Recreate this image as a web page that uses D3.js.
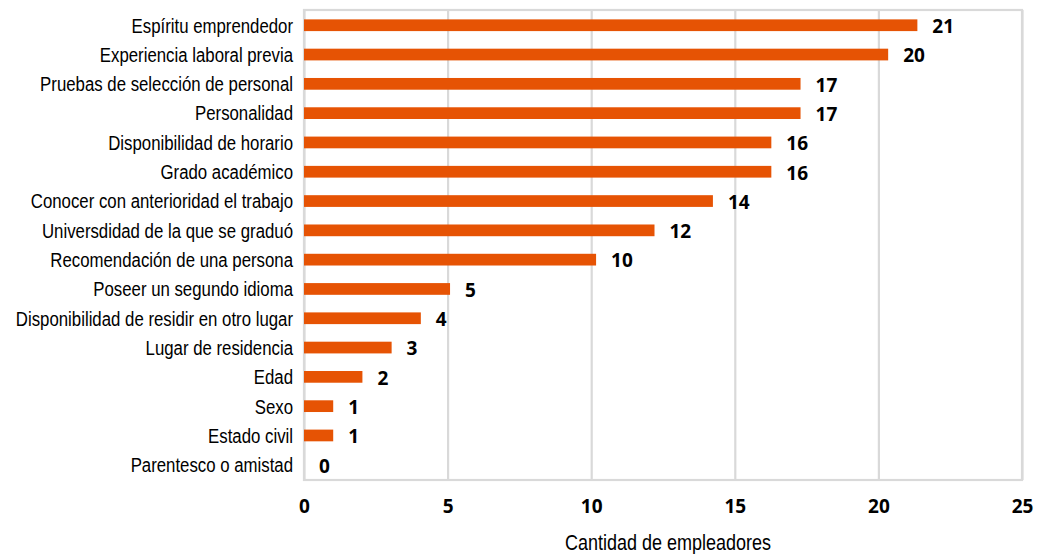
<!DOCTYPE html>
<html><head><meta charset="utf-8">
<script src="https://cdn.jsdelivr.net/npm/d3@7"></script>
<style>
html,body{margin:0;padding:0;background:#fff;}
svg{display:block;}
.cat{font-family:"Liberation Sans",Arial,sans-serif;font-size:21px;fill:#000;}
.num{font-family:"Open Sans",sans-serif;font-weight:700;font-size:19px;fill:#000;}
.title{font-family:"Liberation Sans",Arial,sans-serif;font-size:22.5px;fill:#000;}
</style></head>
<body><svg id="c" width="1041" height="554"></svg>
<script>
const categories = ["Espíritu emprendedor","Experiencia laboral previa","Pruebas de selección de personal","Personalidad","Disponibilidad de horario","Grado académico","Conocer con anterioridad el trabajo","Universdidad de la que se graduó","Recomendación de una persona","Poseer un segundo idioma","Disponibilidad de residir en otro lugar","Lugar de residencia","Edad","Sexo","Estado civil","Parentesco o amistad"];
const values = [21,20,17,17,16,16,14,12,10,5,4,3,2,1,1,0];
const xTicks = [0,5,10,15,20,25];
const xTitle = "Cantidad de empleadores";

const svg = d3.select("#c");
const L = 304, R = 1022, T = 10, B = 480;
const NARROW = 0.8;
const x = d3.scaleLinear().domain([0,25]).range([L,R]);
const xBar = d3.scaleLinear().domain([0,25]).range([L, L + (R-L)*1.017]);
const y = d3.scaleBand().domain(categories).range([T,B]).paddingInner(0.6).paddingOuter(0.32);
const grid = "#d9d9d9";

// gridlines
svg.append("g").attr("transform",`translate(0,${B})`)
  .call(d3.axisBottom(x).tickValues(xTicks).tickSize(-(B-T)).tickFormat(""))
  .call(g=>g.select(".domain").remove())
  .call(g=>g.selectAll("line").attr("stroke",grid).attr("stroke-width",2.2));
// border
svg.append("rect").attr("x",L).attr("y",T).attr("width",R-L).attr("height",B-T)
  .attr("fill","none").attr("stroke",grid).attr("stroke-width",2.2);

// bars
svg.append("g").selectAll("rect").data(values).join("rect")
  .attr("x",L).attr("y",(d,i)=>y(categories[i]))
  .attr("width",d=>xBar(d)-L).attr("height",y.bandwidth())
  .attr("fill","#e65304");

// value labels
svg.append("g").selectAll("text").data(values).join("text").attr("class","num")
  .attr("x",d=>xBar(d)+15).attr("y",(d,i)=>y(categories[i])+y.bandwidth()/2+1)
  .attr("dy","0.36em").text(d=>d);

// category labels (condensed)
svg.append("g").selectAll("text").data(categories).join("text").attr("class","cat")
  .attr("text-anchor","end").attr("dy","0.35em")
  .attr("transform",d=>`translate(${L-11},${y(d)+y.bandwidth()/2}) scale(${NARROW},1)`)
  .text(d=>d);

// x tick labels
svg.append("g").attr("transform",`translate(0,${B})`)
  .call(d3.axisBottom(x).tickValues(xTicks).tickSize(0).tickPadding(20))
  .call(g=>g.select(".domain").remove())
  .call(g=>g.selectAll("text").attr("class","num").attr("fill",null).attr("font-size",null).attr("font-family",null));

svg.append("text").attr("class","title").attr("text-anchor","middle")
  .attr("transform",`translate(${(L+R)/2+5},550) scale(${NARROW},1)`).text(xTitle);
</script></body></html>
